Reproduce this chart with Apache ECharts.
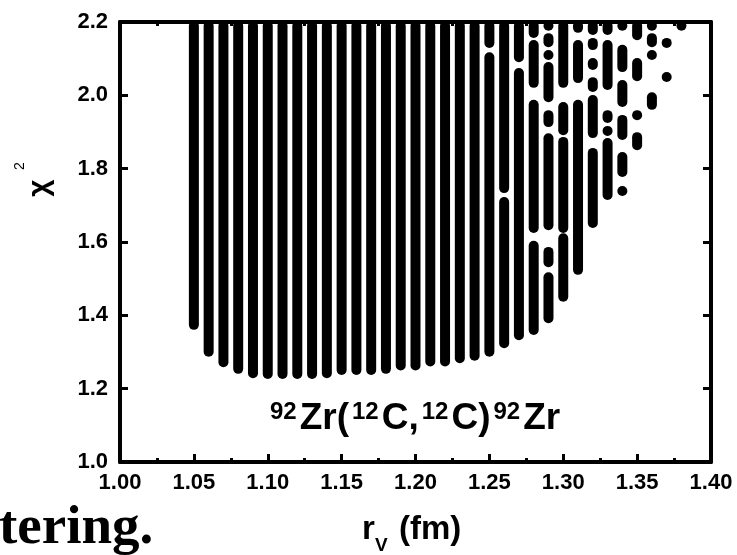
<!DOCTYPE html>
<html>
<head>
<meta charset="utf-8">
<script src="https://cdn.jsdelivr.net/npm/echarts@6/dist/echarts.min.js"></script>
<style>
html,body{margin:0;padding:0;background:#fff;}
#chart{width:737px;height:555px;}
</style>
</head>
<body>
<div id="chart"></div>
<script>
// ---- axis ranges and tick labels ----
const X_MIN = 1.00, X_MAX = 1.40, X_STEP = 0.05;
const Y_MIN = 1.0, Y_MAX = 2.2, Y_STEP = 0.2;
const xTickLabels = ['1.00','1.05','1.10','1.15','1.20','1.25','1.30','1.35','1.40'];
const yTickLabels = ['1.0','1.2','1.4','1.6','1.8','2.0','2.2'];

// ---- dense columns: r_V value and lowest chi^2 (points fill up to CHI_TOP) ----
const CHI_TOP = 2.19;
const denseR   = [1.05, 1.06, 1.07, 1.08, 1.09, 1.10, 1.11, 1.12, 1.13, 1.14,
                  1.15, 1.16, 1.17, 1.18, 1.19, 1.20, 1.21, 1.22, 1.23, 1.24];
const denseMin = [1.374, 1.301, 1.272, 1.254, 1.242, 1.240, 1.240, 1.240, 1.240, 1.242,
                  1.251, 1.251, 1.251, 1.254, 1.263, 1.263, 1.274, 1.274, 1.283, 1.290];

// ---- broken columns: [r_V, chi2 low, chi2 high] runs of points ----
const brokenRuns = [
  [1.25, 1.301, 2.104], [1.25, 2.143, 2.19],
  [1.26, 1.324, 1.709], [1.26, 1.747, 2.19],
  [1.27, 1.346, 2.061], [1.27, 2.104, 2.19],
  [1.28, 1.360, 1.590], [1.28, 1.638, 1.974], [1.28, 2.034, 2.137], [1.28, 2.170, 2.19],
  [1.29, 1.392, 1.504], [1.29, 1.545, 1.573], [1.29, 1.646, 1.883], [1.29, 1.927, 1.946],
  [1.29, 1.995, 2.077], [1.29, 2.110, 2.110], [1.29, 2.145, 2.156], [1.29, 2.19, 2.19],
  [1.30, 1.451, 1.610], [1.30, 1.638, 1.873], [1.30, 1.905, 1.968], [1.30, 2.034, 2.19],
  [1.31, 1.524, 1.974], [1.31, 2.047, 2.137], [1.31, 2.184, 2.19],
  [1.32, 1.652, 1.843], [1.32, 1.897, 1.987], [1.32, 2.023, 2.036], [1.32, 2.083, 2.088],
  [1.32, 2.137, 2.143], [1.32, 2.178, 2.19],
  [1.33, 1.728, 1.870], [1.33, 1.903, 1.903], [1.33, 1.938, 1.946], [1.33, 2.028, 2.137],
  [1.33, 2.178, 2.19],
  [1.34, 1.739, 1.739], [1.34, 1.791, 1.832], [1.34, 1.892, 1.933], [1.34, 1.982, 2.028],
  [1.34, 2.077, 2.124], [1.34, 2.19, 2.19],
  [1.35, 1.864, 1.886], [1.35, 1.946, 1.946], [1.35, 2.052, 2.088], [1.35, 2.164, 2.19],
  [1.36, 1.974, 1.995], [1.36, 2.110, 2.110], [1.36, 2.145, 2.156], [1.36, 2.19, 2.19],
  [1.37, 2.050, 2.050], [1.37, 2.143, 2.143],
  [1.38, 2.19, 2.19]
];

// build the series table
const runs = denseR.map((r, i) => [r, denseMin[i], CHI_TOP]).concat(brokenRuns);

const FONT = "'Liberation Sans', Arial, sans-serif";
const DOT = 10;

function xAxisDef(pos, showLabel) {
  return {
    type: 'value', position: pos, min: X_MIN, max: X_MAX, interval: X_STEP,
    axisLine: {show: true, onZero: false, lineStyle: {color: '#000', width: 4}},
    axisTick: {show: true, inside: true, length: 8, lineStyle: {color: '#000', width: 3}},
    minorTick: {show: true, splitNumber: 2, length: 4, lineStyle: {color: '#000', width: 3}},
    splitLine: {show: false}, minorSplitLine: {show: false},
    axisLabel: {
      show: showLabel, margin: 10, color: '#000', fontSize: 22, fontWeight: 'bold', fontFamily: FONT,
      formatter: v => xTickLabels[Math.round((v - X_MIN) / X_STEP)]
    }
  };
}
function yAxisDef(pos, showLabel) {
  return {
    type: 'value', position: pos, min: Y_MIN, max: Y_MAX, interval: Y_STEP,
    axisLine: {show: true, onZero: false, lineStyle: {color: '#000', width: 4}},
    axisTick: {show: true, inside: true, length: 8, lineStyle: {color: '#000', width: 3}},
    splitLine: {show: false},
    axisLabel: {
      show: showLabel, margin: 12, color: '#000', fontSize: 22, fontWeight: 'bold', fontFamily: FONT,
      formatter: v => yTickLabels[Math.round((v - Y_MIN) / Y_STEP)]
    }
  };
}

const chart = echarts.init(document.getElementById('chart'), null, {renderer: 'canvas'});
chart.setOption({
  animation: false,
  backgroundColor: '#fff',
  grid: {left: 120, right: 26, top: 22, bottom: 93, containLabel: false},
  xAxis: [xAxisDef('bottom', true), xAxisDef('top', false)],
  yAxis: [yAxisDef('left', true), yAxisDef('right', false)],
  series: [{
    type: 'custom',
    xAxisIndex: 0, yAxisIndex: 0,
    clip: true,
    data: runs,
    encode: {x: 0, y: [1, 2]},
    renderItem: function (params, api) {
      const top = api.coord([api.value(0), api.value(2)]);
      const bot = api.coord([api.value(0), api.value(1)]);
      return {
        type: 'rect',
        shape: {x: top[0] - DOT / 2, y: top[1] - DOT / 2, width: DOT, height: bot[1] - top[1] + DOT, r: DOT / 2},
        style: {fill: '#000'}
      };
    }
  }],
  graphic: [
    // y axis name chi^2 (rotated)
    {type: 'text', x: 40, y: 188, rotation: Math.PI / 2,
     style: {text: 'χ', font: "bold 30px " + FONT, fill: '#000', align: 'center', verticalAlign: 'middle'}},
    {type: 'text', x: 20, y: 166, rotation: Math.PI / 2,
     style: {text: '2', font: "14px " + FONT, fill: '#000', align: 'center', verticalAlign: 'middle'}},
    { // annotation
      type: 'text', x: 267, y: 400,
      style: {
        text: '{s|92}{m|Zr(}{s|12}{m|C,}{s|12}{m|C)}{s|92}{m|Zr}',
        align: 'left', verticalAlign: 'top',
        rich: {
          s: {fontSize: 24, fontWeight: 'bold', fontFamily: FONT, fill: '#000', lineHeight: 24, verticalAlign: 'top', padding: [0, 3, 0, 3]},
          m: {fontSize: 37, fontWeight: 'bold', fontFamily: FONT, fill: '#000', lineHeight: 37, verticalAlign: 'bottom'}
        }
      }
    },
    // x axis name r_V (fm)
    {type: 'text', x: 362, y: 530, style: {text: 'r', font: "bold 33px " + FONT, fill: '#000', align: 'left', verticalAlign: 'middle'}},
    {type: 'text', x: 375, y: 546, style: {text: 'V', font: "bold 19px " + FONT, fill: '#000', align: 'left', verticalAlign: 'middle'}},
    {type: 'text', x: 399, y: 530, style: {text: '(fm)', font: "bold 33px " + FONT, fill: '#000', align: 'left', verticalAlign: 'middle'}},
    // cropped caption fragment at the lower left
    {type: 'text', x: -1, y: 529, style: {text: 'tering.', font: "bold 55px 'Liberation Serif', 'Times New Roman', serif", fill: '#000', align: 'left', verticalAlign: 'middle'}}
  ]
});
</script>
</body>
</html>
